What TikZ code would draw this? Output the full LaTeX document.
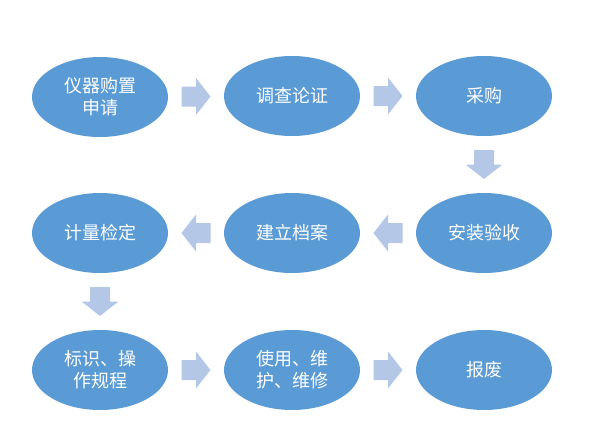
\documentclass[tikz,border=0pt]{standalone}
\usepackage{fontspec}
\newfontfamily\cjk{Noto Sans CJK SC}
\usetikzlibrary{calc,shapes.geometric}
\definecolor{ellfill}{HTML}{5B9BD5}
\definecolor{arrfill}{HTML}{B4C7E7}
\tikzset{
  stepell/.style={ellipse, fill=ellfill, draw=none, minimum width=136pt, minimum height=80pt,
    inner sep=0pt, text=white, align=center,
    font=\cjk\fontsize{18pt}{22pt}\selectfont},
  blockarr/.style={fill=arrfill, draw=none}
}
\newcommand{\blockarrow}[2]{%
  \fill[blockarr, shift={(#1)}, rotate=#2]
    (-14.5,-10) -- (0,-10) -- (0,-18.5) -- (14.5,0) -- (0,18.5) -- (0,10) -- (-14.5,10) -- cycle;}
\begin{document}
\begin{tikzpicture}[x=1pt, y=-1pt]
\useasboundingbox (0,0) rectangle (595,447);
\node[stepell] (a1) at (100,97) {仪器购置\\申请};
\node[stepell] (a2) at (292,96) {调查论证};
\node[stepell] (a3) at (484,96) {采购};
\node[stepell] (b3) at (484,233) {安装验收};
\node[stepell] (b2) at (292,233) {建立档案};
\node[stepell] (b1) at (100,233) {计量检定};
\node[stepell] (c1) at (100,370) {标识、操\\作规程};
\node[stepell] (c2) at (292,370) {使用、维\\护、维修};
\node[stepell] (c3) at (484,370) {报废};
\coordinate (m12) at ($(a1.east)!0.5!(a2.west)$);
\coordinate (m23) at ($(a2.east)!0.5!(a3.west)$);
\coordinate (m3d) at ($(a3.south)!0.5!(b3.north)$);
\coordinate (m32) at ($(b3.west)!0.5!(b2.east)$);
\coordinate (m21) at ($(b2.west)!0.5!(b1.east)$);
\coordinate (m1d) at ($(b1.south)!0.5!(c1.north)$);
\coordinate (n12) at ($(c1.east)!0.5!(c2.west)$);
\coordinate (n23) at ($(c2.east)!0.5!(c3.west)$);
\blockarrow{m12}{0}
\blockarrow{m23}{0}
\blockarrow{m3d}{-90}
\blockarrow{m32}{180}
\blockarrow{m21}{180}
\blockarrow{m1d}{-90}
\blockarrow{n12}{0}
\blockarrow{n23}{0}
\end{tikzpicture}
\end{document}
